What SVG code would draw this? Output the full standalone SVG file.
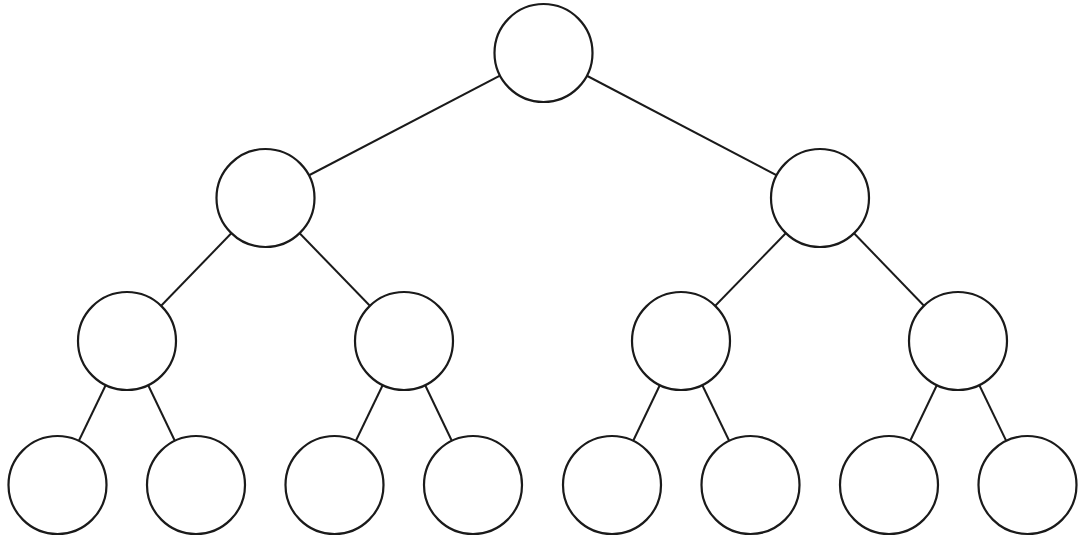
<svg xmlns="http://www.w3.org/2000/svg" width="1088" height="538" viewBox="0 0 1088 538">
<style>
.n{fill:#fff;stroke:#1a1a1a;stroke-width:2.2}
.e{stroke:#1a1a1a;stroke-width:2}
</style>
<rect width="1088" height="538" fill="#fff"/>
<g id="connectors">
<line class="e" x1="543.5" y1="53" x2="265.5" y2="198"/>
<line class="e" x1="543.5" y1="53" x2="820" y2="198"/>
<line class="e" x1="265.5" y1="198" x2="127" y2="341"/>
<line class="e" x1="265.5" y1="198" x2="404" y2="341"/>
<line class="e" x1="820" y1="198" x2="681" y2="341"/>
<line class="e" x1="820" y1="198" x2="958" y2="341"/>
<line class="e" x1="127" y1="341" x2="57.5" y2="485"/>
<line class="e" x1="127" y1="341" x2="196" y2="485"/>
<line class="e" x1="404" y1="341" x2="334.5" y2="485"/>
<line class="e" x1="404" y1="341" x2="473" y2="485"/>
<line class="e" x1="681" y1="341" x2="612" y2="485"/>
<line class="e" x1="681" y1="341" x2="750.5" y2="485"/>
<line class="e" x1="958" y1="341" x2="889" y2="485"/>
<line class="e" x1="958" y1="341" x2="1027.5" y2="485"/>
</g>
<g id="n1"><circle class="n" cx="543.5" cy="53" r="49"/></g>
<g id="n2"><circle class="n" cx="265.5" cy="198" r="49"/></g>
<g id="n3"><circle class="n" cx="820" cy="198" r="49"/></g>
<g id="n4"><circle class="n" cx="127" cy="341" r="49"/></g>
<g id="n5"><circle class="n" cx="404" cy="341" r="49"/></g>
<g id="n6"><circle class="n" cx="681" cy="341" r="49"/></g>
<g id="n7"><circle class="n" cx="958" cy="341" r="49"/></g>
<g id="n8"><circle class="n" cx="57.5" cy="485" r="49"/></g>
<g id="n9"><circle class="n" cx="196" cy="485" r="49"/></g>
<g id="n10"><circle class="n" cx="334.5" cy="485" r="49"/></g>
<g id="n11"><circle class="n" cx="473" cy="485" r="49"/></g>
<g id="n12"><circle class="n" cx="612" cy="485" r="49"/></g>
<g id="n13"><circle class="n" cx="750.5" cy="485" r="49"/></g>
<g id="n14"><circle class="n" cx="889" cy="485" r="49"/></g>
<g id="n15"><circle class="n" cx="1027.5" cy="485" r="49"/></g>
</svg>
